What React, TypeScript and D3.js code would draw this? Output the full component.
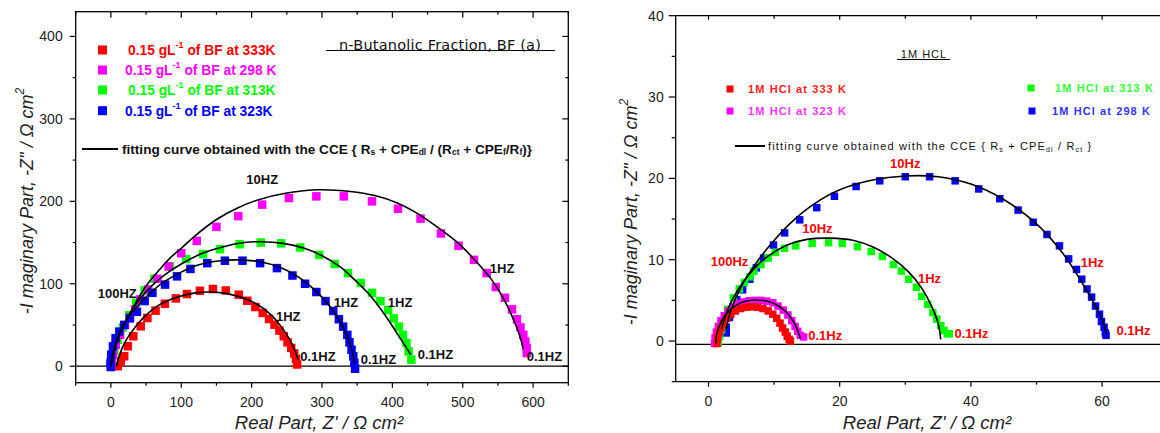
import React from "react";
import * as d3 from "d3";

type Pt = [number, number];

// ---------- LEFT PANEL DATA (n-Butanolic Fraction) ----------
const bf333: Pt[] = [
  [9.9, 0], [14, 6], [18.9, 12.1], [24.1, 24.2], [31.9, 36.3], [42.4, 48.4], [51.9, 58.5], [63.5, 67.4],
  [76.7, 75.8], [92.4, 82.2], [108.1, 87.5], [126.5, 91.5], [145, 93.6], [163.3, 91.9], [181.7, 86.7],
  [193.8, 79.4], [205.3, 71.8], [215.8, 64.6], [224.7, 57.3], [232.5, 50.4], [239.5, 43.2],
  [245.7, 36.3], [251, 29], [256.2, 22.2], [260.5, 15.4], [263, 8.9], [264.6, 2.1],
];
const bf298: Pt[] = [
  [0, 0], [1, 6], [3, 15], [7, 26], [13, 38], [20, 50], [27, 59], [34.5, 69], [42, 81], [53, 93],
  [66, 106], [82, 121], [100, 137], [122, 152], [150, 169], [181, 182], [215, 196], [253, 204],
  [292, 206], [331, 206], [371, 200], [408, 191], [440, 179], [469, 161], [494, 146], [516, 129],
  [534, 113], [547, 96], [560, 83], [570, 69], [577, 57], [582, 47], [586, 38], [589, 30], [591, 22], [591, 16],
];
const bf313: Pt[] = [
  [0, 0], [2, 8], [5, 18], [10, 32], [17, 47], [26, 62], [36, 77], [48, 92], [62, 106], [84, 121],
  [107, 130], [131, 136], [155, 142], [183, 148], [213, 150], [242, 149], [269, 144], [296, 135],
  [318, 124], [337, 113], [355, 101], [371, 89], [383, 79], [394, 68], [402, 58], [409, 48],
  [415, 38], [420, 28], [423, 18], [427, 8],
];
const bf323: Pt[] = [
  [0, -1], [-0.5, 4], [0.4, 14], [3, 24], [6.7, 34], [12, 42], [19, 50], [27, 58], [37, 66], [48, 79],
  [59, 89], [77, 99], [94, 109], [113, 118], [137, 125], [162, 128], [187, 128], [212, 125],
  [236, 119], [258, 110], [276, 100], [292, 90], [305, 79], [316, 67], [324, 57], [330, 48],
  [336, 38], [339, 29], [342, 20], [344.5, 12], [346, 4], [347, -3],
];
const fit333L: Pt[] = [
  [8, 0], [11, 10], [16, 22], [24, 35], [35, 48], [50, 62], [70, 75], [95, 84], [120, 89], [142, 90],
  [165, 88], [190, 82], [210, 74], [228, 62], [242, 48], [253, 34], [261, 20], [266, 8],
];
const fit298L: Pt[] = [
  [0, 0], [3, 12], [8, 28], [16, 46], [27, 64], [40, 84], [55, 103], [69, 117], [85, 132], [100, 143],
  [118, 157], [150, 178], [180, 192], [210, 202], [250, 210], [295, 214], [340, 212], [375, 207],
  [407, 198], [436, 185], [465, 168], [494, 149], [518, 128], [541, 105], [558, 82], [573, 55],
  [581, 37], [586, 21],
];
const fit313L: Pt[] = [
  [0, 0], [3, 12], [8, 28], [16, 46], [27, 64], [40, 80], [55, 95], [75, 110], [100, 124], [130, 137],
  [160, 145], [190, 150], [213, 151], [245, 149], [275, 143], [300, 134], [325, 121], [345, 106],
  [365, 89], [382, 71], [396, 54], [408, 38], [418, 25], [426, 14],
];
const fit323L: Pt[] = [
  [0, 0], [2, 12], [6, 26], [13, 42], [22, 56], [35, 70], [50, 84], [70, 99], [95, 112], [125, 123],
  [155, 128], [180, 129], [210, 127], [240, 120], [265, 109], [285, 96], [302, 82], [316, 67],
  [327, 52], [335, 38], [341, 24], [345, 10], [346, 2],
];
const leftLegendLabels = ["of BF at 333K", "of BF at 298 K", "of BF at 313K", "of BF at 323K"];
const leftXTicks = [0, 100, 200, 300, 400, 500, 600];
const leftXMinor = [-50, 50, 150, 250, 350, 450, 550, 650];
const leftYTicks = [0, 100, 200, 300, 400];
const leftYMinor = [50, 150, 250, 350];
const leftFreq = [
  { t: "10HZ", x: 215, y: 226, a: "middle" },
  { t: "100HZ", x: 9, y: 88, a: "middle" },
  { t: "1HZ", x: 556, y: 119, a: "middle" },
  { t: "1HZ", x: 334, y: 77, a: "middle" },
  { t: "1HZ", x: 411, y: 77, a: "middle" },
  { t: "1HZ", x: 252, y: 60, a: "middle" },
  { t: "0.1HZ", x: 269, y: 12, a: "start" },
  { t: "0.1HZ", x: 355, y: 8, a: "start" },
  { t: "0.1HZ", x: 436, y: 14, a: "start" },
  { t: "0.1HZ", x: 591, y: 12, a: "start" },
];

// ---------- RIGHT PANEL DATA (1M HCl) ----------
const hcl298: Pt[] = [
  [2.7, 1.0], [2.7, 1.7], [3.2, 2.9], [3.5, 3.9], [4.3, 5.1], [5.2, 6.3], [6.3, 7.6], [7.3, 9.0],
  [8.4, 10.2], [9.9, 11.8], [11.6, 13.3], [13.9, 14.9], [16.5, 16.4], [19.2, 17.8], [22.5, 19.0],
  [26.1, 19.7], [30.0, 20.2], [33.7, 20.2], [37.6, 19.7], [41.2, 18.7], [44.4, 17.5], [47.2, 16.1],
  [49.5, 14.6], [51.6, 13.1], [53.5, 11.7], [54.9, 10.1], [56.1, 8.8], [56.9, 7.6], [57.7, 6.4],
  [58.4, 5.4], [59.0, 4.3], [59.6, 3.3], [59.9, 2.4], [60.3, 1.7], [60.5, 1.0], [60.6, 0.7],
];
const hcl313: Pt[] = [
  [1.5, -0.2], [1.7, 0.6], [2.0, 1.4], [2.4, 2.3], [2.9, 3.9], [3.8, 5.3], [4.7, 6.4], [5.5, 7.2],
  [6.3, 7.9], [6.9, 8.6], [8.0, 9.4], [9.1, 10.2], [10.2, 10.9], [11.6, 11.4], [13.3, 11.7],
  [15.8, 12.0], [18.3, 12.1], [20.4, 12.0], [22.7, 11.6], [24.8, 11.0], [26.5, 10.4], [28.2, 9.4],
  [29.4, 8.6], [30.5, 7.6], [31.7, 6.6], [32.5, 5.5], [33.4, 4.5], [34.2, 3.5], [34.8, 2.7],
  [35.4, 1.9], [35.9, 1.3], [36.4, 0.9], [36.7, 0.9],
];
const hcl323: Pt[] = [
  [0.9, -0.3], [1.0, 0.4], [1.2, 1.1], [1.5, 1.8], [1.9, 2.5], [2.4, 3.1], [3.0, 3.7], [3.7, 4.2],
  [4.5, 4.6], [5.3, 4.8], [6.2, 4.95], [7.1, 5.0], [8.0, 5.0], [8.9, 4.9], [9.8, 4.7], [10.6, 4.3],
  [11.4, 3.8], [12.1, 3.2], [12.7, 2.5], [13.2, 1.8], [13.6, 1.2], [14.0, 0.7], [14.5, 0.5],
];
const hcl333: Pt[] = [
  [1.3, -0.3], [1.4, 0.4], [1.6, 1.0], [1.9, 1.6], [2.3, 2.2], [2.8, 2.8], [3.4, 3.3], [4.1, 3.7],
  [4.9, 4.0], [5.7, 4.15], [6.6, 4.2], [7.5, 4.15], [8.3, 4.0], [9.1, 3.7], [9.8, 3.3], [10.4, 2.8],
  [10.9, 2.2], [11.3, 1.6], [11.7, 1.1], [12.0, 0.6], [12.3, 0.2], [12.5, 0.0],
];
const fit298R: Pt[] = [
  [2.7, 1.5], [3.5, 4.0], [5.0, 6.7], [7.0, 9.3], [9.5, 11.9], [12.5, 14.5], [16, 16.8], [20, 18.6],
  [25, 19.8], [30, 20.3], [35, 20.2], [40, 19.3], [45, 17.4], [50, 14.4], [54, 10.8], [57, 7.1],
  [59, 4.3], [60.3, 2.0], [60.7, 0.8],
];
const fit313R: Pt[] = [
  [2.0, 1.5], [3.0, 4.0], [4.5, 6.3], [6.5, 8.5], [9.0, 10.4], [12, 11.8], [15, 12.5], [18.5, 12.65],
  [22, 12.4], [25, 11.6], [28, 10.2], [30.5, 8.5], [32.5, 6.5], [34, 4.3], [35, 2.2], [35.4, 0.2],
];
const fit323R: Pt[] = [
  [1.1, -0.3], [1.3, 1.0], [1.9, 2.3], [2.8, 3.4], [4.0, 4.3], [5.5, 4.85], [7.3, 5.05], [9.0, 4.9],
  [10.5, 4.4], [11.8, 3.6], [12.8, 2.6], [13.5, 1.5], [14.0, 0.3],
];
const rightLegendLabels = ["1M HCl at 333 K", "1M HCl at 323 K", "1M HCl at 313 K", "1M HCl at 298 K"];
const rightXTicks = [0, 20, 40, 60];
const rightXMinor = [10, 30, 50, 70];
const rightYTicks = [0, 10, 20, 30, 40];
const rightYMinor = [-5, 5, 15, 25, 35];
const rightFreq = [
  { t: "10Hz", x: 30.0, y: 21.8, a: "middle" },
  { t: "10Hz", x: 16.6, y: 13.8, a: "middle" },
  { t: "100Hz", x: 3.2, y: 9.8, a: "middle" },
  { t: "1Hz", x: 33.7, y: 7.7, a: "middle" },
  { t: "1Hz", x: 58.5, y: 9.7, a: "middle" },
  { t: "0.1Hz", x: 15.2, y: 0.7, a: "start" },
  { t: "0.1Hz", x: 37.5, y: 0.9, a: "start" },
  { t: "0.1Hz", x: 62.2, y: 1.3, a: "start" },
];

const RED = "#ff0000";
const MAG = "#ff00ff";
const GRN = "#00ff00";
const BLU = "#0000ff";
const FONT = "'Liberation Sans', Arial, sans-serif";

function Squares({ data, x, y, color, size }: any) {
  return (
    <g fill={color}>
      {data.map((d: Pt, i: number) => (
        <rect key={i} x={x(d[0]) - size / 2} y={y(d[1]) - size / 2} width={size} height={size} />
      ))}
    </g>
  );
}

export default function App() {
  const xL = d3.scaleLinear().domain([-50, 650]).range([75.7, 568.3]);
  const yL = d3.scaleLinear().domain([-20, 430]).range([382.7, 11.7]);
  const xR = d3.scaleLinear().domain([-5, 75]).range([675.7, 1200.5]);
  const yR = d3.scaleLinear().domain([-5, 40]).range([381.7, 15.7]);

  const lineL = d3.line<Pt>().x((d) => xL(d[0])).y((d) => yL(d[1])).curve(d3.curveCatmullRom.alpha(0.5));
  const lineR = d3.line<Pt>().x((d) => xR(d[0])).y((d) => yR(d[1])).curve(d3.curveCatmullRom.alpha(0.5));

  const [lx0, lx1] = xL.range();
  const [ly0, ly1] = yL.range();
  const [rx0, rx1] = xR.range();
  const [ry0, ry1] = yR.range();

  const legendColors = [RED, MAG, GRN, BLU];
  const leftLegY = [50, 70, 90, 110.7];
  const leftLegTextX = [128, 125, 128, 125];

  const rightLegPos = [
    { sx: 730, sy: 89, tx: 748 },
    { sx: 730, sy: 111, tx: 748 },
    { sx: 1031, sy: 88, tx: 1055 },
    { sx: 1032, sy: 111, tx: 1052 },
  ];
  const rightLegColors = ["#ff1a1a", "#ff33ff", "#33ff33", "#3333ff"];

  return (
    <svg
      width={1160}
      height={433}
      style={{ position: "absolute", left: 0, top: 0, background: "#fff" }}
      fontFamily={FONT}
    >
      <rect width={1160} height={433} fill="#fff" />
      {/* ================= LEFT PANEL ================= */}
      <g>
        <rect x={lx0} y={ly1} width={lx1 - lx0} height={ly0 - ly1} fill="none" stroke="#000" strokeWidth={1.3} />
        <line x1={lx0} x2={lx1} y1={yL(0)} y2={yL(0)} stroke="#000" strokeWidth={1.2} />
        {leftXTicks.map((t) => (
          <g key={"lx" + t}>
            <line x1={xL(t)} x2={xL(t)} y1={ly0} y2={ly0 + 5} stroke="#000" strokeWidth={1.2} />
            <line x1={xL(t)} x2={xL(t)} y1={ly1} y2={ly1 + 6} stroke="#000" strokeWidth={1.2} />
            <text x={xL(t)} y={ly0 + 19} textAnchor="middle" dominantBaseline="central" fontSize={14} fill="#222">
              {t}
            </text>
          </g>
        ))}
        {leftXMinor.map((t) => (
          <g key={"lxm" + t}>
            <line x1={xL(t)} x2={xL(t)} y1={ly0} y2={ly0 + 3} stroke="#000" strokeWidth={1.2} />
            <line x1={xL(t)} x2={xL(t)} y1={ly1} y2={ly1 + 3} stroke="#000" strokeWidth={1.2} />
          </g>
        ))}
        {leftYTicks.map((t) => (
          <g key={"ly" + t}>
            <line x1={lx0 - 6} x2={lx0} y1={yL(t)} y2={yL(t)} stroke="#000" strokeWidth={1.2} />
            <line x1={lx1 - 6} x2={lx1} y1={yL(t)} y2={yL(t)} stroke="#000" strokeWidth={1.2} />
            <text x={lx0 - 13} y={yL(t)} textAnchor="end" dominantBaseline="central" fontSize={14} fill="#222">
              {t}
            </text>
          </g>
        ))}
        {leftYMinor.map((t) => (
          <g key={"lym" + t}>
            <line x1={lx0 - 3} x2={lx0} y1={yL(t)} y2={yL(t)} stroke="#000" strokeWidth={1.2} />
            <line x1={lx1 - 3} x2={lx1} y1={yL(t)} y2={yL(t)} stroke="#000" strokeWidth={1.2} />
          </g>
        ))}
        <Squares data={bf333} x={xL} y={yL} color={RED} size={8.5} />
        <Squares data={bf313} x={xL} y={yL} color={GRN} size={8.5} />
        <Squares data={bf298} x={xL} y={yL} color={MAG} size={8.5} />
        <Squares data={bf323} x={xL} y={yL} color={BLU} size={8.5} />
        {[fit333L, fit298L, fit313L, fit323L].map((f, i) => (
          <path key={"fl" + i} d={lineL(f) || ""} fill="none" stroke="#000" strokeWidth={1.6} />
        ))}
        {leftFreq.map((f, i) => (
          <text
            key={"lf" + i}
            x={xL(f.x)}
            y={yL(f.y)}
            textAnchor={f.a as any}
            dominantBaseline="central"
            fontSize={13}
            fontWeight="bold"
            fill="#111"
          >
            {f.t}
          </text>
        ))}
        <text x={440} y={45} textAnchor="middle" dominantBaseline="central" fontSize={14.5} fill="#111" fontFamily="'DejaVu Sans', sans-serif" letterSpacing={0.2}>
          n-Butanolic Fraction, BF (a)
        </text>
        <line x1={326} x2={555} y1={50.5} y2={50.5} stroke="#000" strokeWidth={1.2} />
        {leftLegendLabels.map((l, i) => (
          <g key={"ll" + i}>
            <rect x={102.5 - 4.5} y={leftLegY[i] - 4.5} width={9} height={9} fill={legendColors[i]} />
            <text x={leftLegTextX[i]} y={leftLegY[i]} dominantBaseline="central" fontSize={13.8} fontWeight="bold" fill={legendColors[i]}>
              <tspan>0.15 gL</tspan>
              <tspan dy={-5} fontSize={9}>-1</tspan>
              <tspan dy={5}> {l}</tspan>
            </text>
          </g>
        ))}
        <line x1={82} x2={118} y1={149} y2={149} stroke="#000" strokeWidth={2} />
        <text x={122} y={149} dominantBaseline="central" fontSize={13.6} fontWeight="bold" fill="#111">
          <tspan>fitting curve obtained with the CCE {"{"} R</tspan>
          <tspan dy={3} fontSize={8.5}>s</tspan>
          <tspan dy={-3}> + CPE</tspan>
          <tspan dy={3} fontSize={8.5}>dl</tspan>
          <tspan dy={-3}> / (R</tspan>
          <tspan dy={3} fontSize={8.5}>ct</tspan>
          <tspan dy={-3}> + CPE</tspan>
          <tspan dy={3} fontSize={8.5}>f</tspan>
          <tspan dy={-3}>/R</tspan>
          <tspan dy={3} fontSize={8.5}>f</tspan>
          <tspan dy={-3}>){"}"}</tspan>
        </text>
        <text x={319} y={422} textAnchor="middle" dominantBaseline="central" fontSize={18.6} fontStyle="italic" fill="#222">
          Real Part, Z' / Ω cm²
        </text>
        <text
          transform={`translate(27,201) rotate(-90)`}
          textAnchor="middle"
          dominantBaseline="central"
          fontSize={18}
          fontStyle="italic"
          fill="#222"
        >
          <tspan>-I maginary Part, -Z'' / Ω cm</tspan>
          <tspan dy={-7} fontSize={12}>2</tspan>
        </text>
      </g>

      {/* ================= RIGHT PANEL ================= */}
      <g>
        <line x1={rx0} x2={rx0} y1={ry0} y2={ry1} stroke="#000" strokeWidth={1.3} />
        <line x1={rx0} x2={rx1} y1={ry0} y2={ry0} stroke="#000" strokeWidth={1.3} />
        <line x1={rx0} x2={rx1} y1={ry1} y2={ry1} stroke="#000" strokeWidth={1.3} />
        <line x1={rx0} x2={rx1} y1={yR(-0.4)} y2={yR(-0.4)} stroke="#000" strokeWidth={1.2} />
        {rightXTicks.map((t) => (
          <g key={"rx" + t}>
            <line x1={xR(t)} x2={xR(t)} y1={ry0} y2={ry0 + 5} stroke="#000" strokeWidth={1.2} />
            <line x1={xR(t)} x2={xR(t)} y1={ry1} y2={ry1 + 4} stroke="#000" strokeWidth={1.2} />
            <text x={xR(t)} y={ry0 + 19} textAnchor="middle" dominantBaseline="central" fontSize={14} fill="#222">
              {t}
            </text>
          </g>
        ))}
        {rightXMinor.map((t) => (
          <g key={"rxm" + t}>
            <line x1={xR(t)} x2={xR(t)} y1={ry0} y2={ry0 + 3} stroke="#000" strokeWidth={1.2} />
            <line x1={xR(t)} x2={xR(t)} y1={ry1} y2={ry1 + 3} stroke="#000" strokeWidth={1.2} />
          </g>
        ))}
        {rightYTicks.map((t) => (
          <g key={"ry" + t}>
            <line x1={rx0 - 7} x2={rx0} y1={yR(t)} y2={yR(t)} stroke="#000" strokeWidth={1.2} />
            <text x={rx0 - 12} y={yR(t)} textAnchor="end" dominantBaseline="central" fontSize={14} fill="#222">
              {t}
            </text>
          </g>
        ))}
        {rightYMinor.map((t) => (
          <line key={"rym" + t} x1={rx0 - 4} x2={rx0} y1={yR(t)} y2={yR(t)} stroke="#000" strokeWidth={1.2} />
        ))}
        <Squares data={hcl298} x={xR} y={yR} color={BLU} size={7.5} />
        <Squares data={hcl313} x={xR} y={yR} color={GRN} size={7.5} />
        <Squares data={hcl323} x={xR} y={yR} color={MAG} size={7.5} />
        <Squares data={hcl333} x={xR} y={yR} color={RED} size={7.5} />
        {[fit298R, fit313R, fit323R].map((f, i) => (
          <path key={"fr" + i} d={lineR(f) || ""} fill="none" stroke="#000" strokeWidth={1.6} />
        ))}
        {rightFreq.map((f, i) => (
          <text
            key={"rf" + i}
            x={xR(f.x)}
            y={yR(f.y)}
            textAnchor={f.a as any}
            dominantBaseline="central"
            fontSize={13}
            fontWeight="bold"
            fill={RED}
          >
            {f.t}
          </text>
        ))}
        <text x={924} y={54} textAnchor="middle" dominantBaseline="central" fontSize={11} fill="#111" letterSpacing={1}>
          1M HCL
        </text>
        <line x1={897} x2={950} y1={59.5} y2={59.5} stroke="#000" strokeWidth={1} />
        {rightLegendLabels.map((l, i) => (
          <g key={"rl" + i}>
            <rect x={rightLegPos[i].sx - 3.5} y={rightLegPos[i].sy - 3.5} width={7} height={7} fill={legendColors[i]} />
            <text
              x={rightLegPos[i].tx}
              y={rightLegPos[i].sy}
              dominantBaseline="central"
              fontSize={11}
              fontWeight="bold"
              letterSpacing={1.1}
              fill={rightLegColors[i]}
            >
              {l}
            </text>
          </g>
        ))}
        <line x1={735} x2={765} y1={146} y2={146} stroke="#000" strokeWidth={2} />
        <text x={768} y={146} dominantBaseline="central" fontSize={11} fill="#111" letterSpacing={1.15}>
          <tspan>fitting curve obtained with the CCE {"{"} R</tspan>
          <tspan dy={3} fontSize={7}>s</tspan>
          <tspan dy={-3}> +  CPE</tspan>
          <tspan dy={3} fontSize={7}>dl</tspan>
          <tspan dy={-3}> / R</tspan>
          <tspan dy={3} fontSize={7}>ct</tspan>
          <tspan dy={-3}> {"}"}</tspan>
        </text>
        <text x={927} y={422} textAnchor="middle" dominantBaseline="central" fontSize={18.6} fontStyle="italic" fill="#222">
          Real Part, Z' / Ω cm²
        </text>
        <text
          transform={`translate(631,212) rotate(-90)`}
          textAnchor="middle"
          dominantBaseline="central"
          fontSize={18}
          fontStyle="italic"
          fill="#222"
        >
          <tspan>-I maginary Part, -Z'' / Ω cm</tspan>
          <tspan dy={-7} fontSize={12}>2</tspan>
        </text>
      </g>
    </svg>
  );
}
